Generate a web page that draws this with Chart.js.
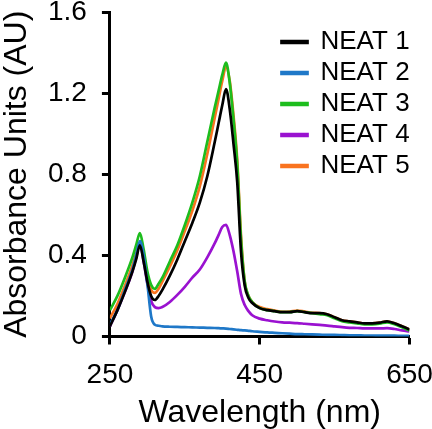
<!DOCTYPE html>
<html>
<head>
<meta charset="utf-8">
<script src="https://cdn.jsdelivr.net/npm/chart.js@4/dist/chart.umd.min.js"></script>
<style>
  body { margin: 0; background: #fff; }
  #wrap { width: 432px; height: 429px; }
</style>
</head>
<body>
<div id="wrap"><canvas id="spectra"></canvas></div>
<script>
// wavelength grid (nm), shared by every trace
const wavelengths = [250, 260, 270, 280, 285, 290, 295, 300, 305, 310, 315, 320, 330, 340, 350, 360, 370, 380, 390, 395,
  400, 405, 410, 415, 420, 425, 430, 435, 440, 450, 460, 470, 480, 490, 500, 510, 520, 530, 540, 550,
  560, 570, 580, 590, 600, 610, 620, 630, 640, 650];

// absorbance (AU)
const neat1 = [0.05, 0.13, 0.22, 0.32, 0.38, 0.45, 0.37, 0.27, 0.20, 0.18, 0.20, 0.23, 0.30, 0.38, 0.47, 0.56, 0.66, 0.79, 0.96, 1.05,
  1.14, 1.22, 1.12, 0.95, 0.76, 0.42, 0.25, 0.19, 0.165, 0.14, 0.13, 0.125, 0.12, 0.12, 0.125, 0.12, 0.115, 0.115, 0.11, 0.095,
  0.08, 0.075, 0.07, 0.065, 0.065, 0.068, 0.075, 0.065, 0.05, 0.035];
const neat2 = [0.06, 0.13, 0.23, 0.33, 0.40, 0.47, 0.40, 0.26, 0.10, 0.058, 0.053, 0.05, 0.048, 0.047, 0.046, 0.045, 0.044, 0.043, 0.042, 0.041,
  0.04, 0.039, 0.037, 0.035, 0.033, 0.031, 0.03, 0.028, 0.026, 0.023, 0.02, 0.018, 0.016, 0.014, 0.012, 0.011, 0.01, 0.009, 0.008, 0.008,
  0.007, 0.006, 0.006, 0.005, 0.005, 0.004, 0.004, 0.004, 0.003, 0.003];
const neat3 = [0.13, 0.20, 0.29, 0.39, 0.45, 0.51, 0.43, 0.32, 0.255, 0.235, 0.26, 0.29, 0.37, 0.45, 0.55, 0.66, 0.79, 0.96, 1.13, 1.21,
  1.29, 1.35, 1.25, 1.07, 0.85, 0.48, 0.27, 0.20, 0.17, 0.14, 0.13, 0.125, 0.12, 0.12, 0.125, 0.12, 0.115, 0.11, 0.105, 0.09,
  0.075, 0.07, 0.065, 0.06, 0.06, 0.063, 0.07, 0.06, 0.045, 0.03];
const neat4 = [0.05, 0.13, 0.22, 0.32, 0.39, 0.46, 0.37, 0.26, 0.175, 0.145, 0.14, 0.145, 0.17, 0.205, 0.245, 0.29, 0.33, 0.39, 0.46, 0.50,
  0.54, 0.55, 0.50, 0.42, 0.32, 0.21, 0.155, 0.125, 0.105, 0.088, 0.08, 0.074, 0.07, 0.068, 0.066, 0.063, 0.06, 0.057, 0.054, 0.05,
  0.046, 0.043, 0.042, 0.04, 0.04, 0.04, 0.041, 0.037, 0.03, 0.025];
const neat5 = [0.09, 0.16, 0.25, 0.35, 0.41, 0.46, 0.39, 0.29, 0.23, 0.215, 0.235, 0.27, 0.345, 0.425, 0.52, 0.62, 0.74, 0.90, 1.08, 1.17,
  1.26, 1.33, 1.26, 1.09, 0.87, 0.50, 0.27, 0.20, 0.17, 0.145, 0.135, 0.128, 0.122, 0.123, 0.128, 0.123, 0.117, 0.116, 0.11, 0.095,
  0.08, 0.075, 0.07, 0.065, 0.065, 0.068, 0.075, 0.065, 0.05, 0.035];

const seriesNames = ['NEAT 1', 'NEAT 2', 'NEAT 3', 'NEAT 4', 'NEAT 5'];
const seriesColors = ['#000000', '#1f78c8', '#1dbd1d', '#9a12d0', '#f9731f'];
const seriesValues = [neat1, neat2, neat3, neat4, neat5];

Chart.defaults.font.family = "'Liberation Sans', Arial, sans-serif";
Chart.defaults.color = '#000';

function toPoints(values) {
  return wavelengths.map((w, i) => ({ x: w, y: values[i] }));
}

// pushes the chartArea legend into the upper right corner
const legendCorner = {
  id: 'legendCorner',
  afterLayout(chart) {
    const lg = chart.legend;
    const area = chart.chartArea;
    lg.left = area.right - 133;
    lg.top = area.top + 12;
    lg.right = lg.left + lg.width;
    lg.bottom = lg.top + lg.height;
  }
};

new Chart(document.getElementById('spectra'), {
  type: 'line',
  data: {
    datasets: seriesNames.map((name, i) => ({
      label: name,
      data: toPoints(seriesValues[i]),
      borderColor: seriesColors[i],
      backgroundColor: seriesColors[i],
      borderWidth: 2.7,
      pointRadius: 0,
      cubicInterpolationMode: 'monotone',
      fill: false
    }))
  },
  options: {
    responsive: true,
    maintainAspectRatio: false,
    animation: false,
    layout: { padding: { top: 12, right: 22.5, bottom: 0, left: 0 } },
    plugins: {
      tooltip: { enabled: false },
      legend: {
        position: 'chartArea',
        align: 'start',
        labels: {
          boxWidth: 26,
          boxHeight: 2,
          padding: 5,
          color: '#000',
          font: { size: 26 }
        }
      }
    },
    scales: {
      x: {
        type: 'linear',
        min: 250,
        max: 650,
        border: { color: '#000', width: 3 },
        grid: { drawOnChartArea: false, drawTicks: true, tickLength: 8, tickWidth: 3, tickColor: '#000' },
        ticks: { stepSize: 200, padding: 14, color: '#000', font: { size: 28 }, maxRotation: 0 },
        title: { display: true, text: 'Wavelength (nm)', color: '#000', font: { size: 32, lineHeight: 1 }, padding: 0 },
        afterFit(scale) {
          scale.height = 92.5;
          scale.paddingLeft = 0;
          scale.paddingRight = 0;
        }
      },
      y: {
        min: 0,
        max: 1.6,
        border: { color: '#000', width: 3 },
        grid: { drawOnChartArea: false, drawTicks: true, tickLength: 8, tickWidth: 3, tickColor: '#000' },
        ticks: { stepSize: 0.4, padding: 15, color: '#000', font: { size: 28 } },
        title: { display: true, text: 'Absorbance Units (AU)', color: '#000', font: { size: 32, lineHeight: 1 }, padding: { top: 1, bottom: 0 } },
        afterFit(scale) {
          scale.paddingTop = 0;
          scale.paddingBottom = 0;
        }
      }
    }
  },
  plugins: [legendCorner]
});
</script>
</body>
</html>
